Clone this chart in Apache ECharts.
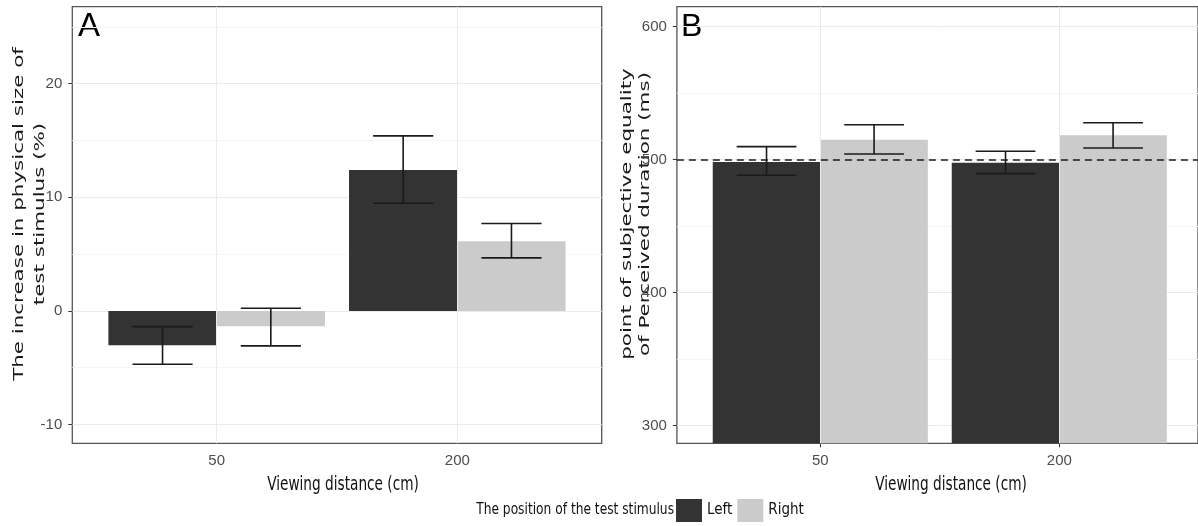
<!DOCTYPE html>
<html>
<head>
<meta charset="utf-8">
<script src="https://cdn.jsdelivr.net/npm/echarts@6/dist/echarts.min.js"></script>
<style>
  html, body { margin: 0; padding: 0; background: #ffffff; }
  #chart { width: 1198px; height: 526px; }
</style>
</head>
<body>
<div id="chart"></div>
<script>
// ---------------- data ----------------
const categories = ['50', '200'];
const seriesNames = ['Left', 'Right'];

// Panel A: increase in physical size of test stimulus (%)
const sizeLeftMean  = [-3.03, 12.41];
const sizeLeftLow   = [-4.69, 9.48];
const sizeLeftHigh  = [-1.38, 15.40];
const sizeRightMean = [-1.35, 6.14];
const sizeRightLow  = [-3.08, 4.67];
const sizeRightHigh = [0.23, 7.69];

// Panel B: point of subjective equality of perceived duration (ms)
const durLeftMean  = [498.3, 497.7];
const durLeftLow   = [488.3, 489.5];
const durLeftHigh  = [509.8, 506.3];
const durRightMean = [515.0, 518.3];
const durRightLow  = [504.3, 508.8];
const durRightHigh = [526.3, 527.8];

const ticksA = [-10, 0, 10, 20];
const ticksB = [300, 400, 500, 600];
const refLineB = 500;

// ---------------- layout ----------------
const boxA = { left: 72.3, top: 6.7, width: 529.4, height: 436.6, vMin: -11.65, vMax: 26.77 };
const boxB = { left: 676.9, top: 6.7, width: 525.8, height: 436.6, vMin: 286.8, vMax: 615.0 };
const CW = 1198;

const COL_DARK = '#333333';
const COL_LIGHT = '#cbcbcb';
const COL_ERR = '#1a1a1a';
const GRID_MAJOR = '#ebebeb';
const GRID_MINOR = '#f5f5f5';
const TICK_COL = '#4d4d4d';
const NARROW = "'Liberation Sans Narrow', 'DejaVu Sans Condensed', 'Roboto Condensed', sans-serif";
const SANS = "'Liberation Sans', Arial, sans-serif";

function borderGrid(box) {
  return { left: box.left, top: box.top, right: CW - box.left - box.width, height: box.height,
           show: true, borderColor: '#555555', borderWidth: 1.3, backgroundColor: 'transparent' };
}
function dataGrid(box) {
  const band = box.width / 2.2;
  return { left: box.left + 0.1 * band, width: 2 * band, top: box.top, height: box.height };
}
function subGrid(box, vMin, vMax) {
  const k = box.height / (box.vMax - box.vMin);
  return { left: box.left, right: CW - box.left - box.width,
           top: box.top + (box.vMax - vMax) * k, height: (vMax - vMin) * k };
}

const stepA = ticksA[1] - ticksA[0];
const stepB = ticksB[1] - ticksB[0];
const splitMaxA = ticksA[ticksA.length - 1] + stepA / 2;  // minor line above the last major tick
const splitMaxB = ticksB[ticksB.length - 1];

const grids = [
  borderGrid(boxA),                                   // 0
  dataGrid(boxA),                                     // 1
  subGrid(boxA, ticksA[0], splitMaxA),                // 2
  subGrid(boxA, ticksA[0], ticksA[ticksA.length - 1]),// 3
  borderGrid(boxB),                                   // 4
  dataGrid(boxB),                                     // 5
  subGrid(boxB, ticksB[0], splitMaxB)                 // 6
];

function hiddenValue(gi) { return { type: 'value', gridIndex: gi, show: false }; }

function catAxis(gi) {
  return {
    type: 'category', gridIndex: gi, data: categories, boundaryGap: true,
    axisLine: { show: false },
    axisTick: { show: true, alignWithLabel: true, length: 4, lineStyle: { color: '#333333', width: 1 } },
    axisLabel: { color: TICK_COL, fontSize: 15, fontFamily: SANS, margin: 10 },
    splitLine: { show: false }
  };
}

function splitAxis(gi, min, max, step) {
  return {
    type: 'value', gridIndex: gi, min: min, max: max, interval: step / 2,
    axisLine: { show: false }, axisTick: { show: false }, axisLabel: { show: false },
    splitLine: { show: true, lineStyle: { color: [GRID_MAJOR, GRID_MINOR], width: 1 } }
  };
}
function labelAxis(gi, ticks) {
  return {
    type: 'value', gridIndex: gi, position: 'left',
    min: ticks[0], max: ticks[ticks.length - 1], interval: ticks[1] - ticks[0],
    axisLine: { show: false },
    axisTick: { show: true, length: 4, lineStyle: { color: '#333333', width: 1 } },
    axisLabel: { color: TICK_COL, fontSize: 15, fontFamily: SANS, margin: 10 },
    splitLine: { show: false }
  };
}

const xAxes = [
  hiddenValue(0), catAxis(1), hiddenValue(2), hiddenValue(3),
  hiddenValue(4), catAxis(5), hiddenValue(6)
];
const yAxes = [
  hiddenValue(0),
  { type: 'value', gridIndex: 1, min: boxA.vMin, max: boxA.vMax, show: false },
  splitAxis(2, ticksA[0], splitMaxA, stepA),
  labelAxis(3, ticksA),
  hiddenValue(4),
  { type: 'value', gridIndex: 5, min: boxB.vMin, max: boxB.vMax, show: false },
  splitAxis(6, ticksB[0], splitMaxB, stepB),
  labelAxis(6, ticksB)
];

function errorRender(sign) {
  return function (params, api) {
    const lo = api.value(1), hi = api.value(2), idx = api.value(0);
    const pLo = api.coord([idx, lo]);
    const pHi = api.coord([idx, hi]);
    const band = api.size([1, 0])[0];
    const cx = pLo[0] + sign * band * 0.225;
    const hw = band * 0.125;
    const st = { stroke: COL_ERR, lineWidth: 1.6 };
    return { type: 'group', children: [
      { type: 'line', shape: { x1: cx, y1: pHi[1], x2: cx, y2: pLo[1] }, style: st },
      { type: 'line', shape: { x1: cx - hw, y1: pHi[1], x2: cx + hw, y2: pHi[1] }, style: st },
      { type: 'line', shape: { x1: cx - hw, y1: pLo[1], x2: cx + hw, y2: pLo[1] }, style: st }
    ]};
  };
}
function errData(low, high) { return categories.map((c, i) => [i, low[i], high[i]]); }

function barSeries(name, data, color, xi, yi) {
  return { name: name, type: 'bar', xAxisIndex: xi, yAxisIndex: yi, data: data,
           barGap: '0%', barCategoryGap: '10%', itemStyle: { color: color }, z: 2, clip: true,
           emphasis: { disabled: true } };
}
function errSeries(low, high, sign, xi, yi) {
  return { type: 'custom', xAxisIndex: xi, yAxisIndex: yi, data: errData(low, high),
           renderItem: errorRender(sign), encode: { x: 0, y: [1, 2] }, z: 3, silent: true };
}
function vGridSeries(xi, yi) {
  return { type: 'line', xAxisIndex: xi, yAxisIndex: yi, data: [], z: 1, silent: true,
           markLine: { silent: true, symbol: 'none', label: { show: false }, animation: false,
                       lineStyle: { color: GRID_MAJOR, width: 1, type: 'solid' },
                       data: categories.map(c => ({ xAxis: c })) } };
}

const series = [
  vGridSeries(1, 1),
  barSeries(seriesNames[0], sizeLeftMean, COL_DARK, 1, 1),
  barSeries(seriesNames[1], sizeRightMean, COL_LIGHT, 1, 1),
  errSeries(sizeLeftLow, sizeLeftHigh, -1, 1, 1),
  errSeries(sizeRightLow, sizeRightHigh, 1, 1, 1),
  vGridSeries(5, 5),
  barSeries(seriesNames[0], durLeftMean, COL_DARK, 5, 5),
  barSeries(seriesNames[1], durRightMean, COL_LIGHT, 5, 5),
  errSeries(durLeftLow, durLeftHigh, -1, 5, 5),
  errSeries(durRightLow, durRightHigh, 1, 5, 5),
  { type: 'line', xAxisIndex: 6, yAxisIndex: 6, data: [], z: 4, silent: true,
    markLine: { silent: true, symbol: 'none', label: { show: false }, animation: false,
                lineStyle: { color: '#1a1a1a', width: 1.5, type: [7, 5] },
                data: [{ yAxis: refLineB }] } }
];

const xTitleStyle = { text: 'Viewing distance (cm)', font: '20px ' + NARROW, fill: '#111111',
                      align: 'center', verticalAlign: 'middle' };

const chart = echarts.init(document.getElementById('chart'), null, { renderer: 'canvas' });
chart.setOption({
  backgroundColor: '#ffffff',
  animation: false,
  grid: grids,
  xAxis: xAxes,
  yAxis: yAxes,
  legend: {
    data: seriesNames, left: 676, top: 499, orient: 'horizontal', padding: 0,
    icon: 'rect', itemWidth: 26, itemHeight: 23, itemGap: 5,
    textStyle: { fontFamily: NARROW, fontSize: 15, color: '#111111' },
    selectedMode: false
  },
  graphic: [
    { type: 'text', left: 78, top: 10, style: { text: 'A', font: '33px ' + SANS, fill: '#000000' } },
    { type: 'text', left: 681, top: 11, style: { text: 'B', font: '32px ' + SANS, fill: '#000000' } },
    { type: 'text', x: 29.5, y: 214, rotation: Math.PI / 2, scaleX: 1.53, scaleY: 1,
      style: { text: 'The increase in physical size of\ntest stimulus (%)', font: "14px 'DejaVu Sans', sans-serif",
               fill: '#1a1a1a', align: 'center', verticalAlign: 'middle', lineHeight: 21 } },
    { type: 'text', x: 636, y: 214, rotation: Math.PI / 2, scaleX: 1.53, scaleY: 1,
      style: { text: 'point of subjective equality\nof Perceived duration (ms)', font: "14px 'DejaVu Sans', sans-serif",
               fill: '#1a1a1a', align: 'center', verticalAlign: 'middle', lineHeight: 18 } },
    { type: 'text', x: 343, y: 485, scaleX: 0.76, scaleY: 1, style: xTitleStyle },
    { type: 'text', x: 951, y: 485, scaleX: 0.76, scaleY: 1, style: xTitleStyle },
    { type: 'text', x: 674, y: 510, scaleX: 0.85, scaleY: 1,
      style: { text: 'The position of the test stimulus', font: '16px ' + NARROW,
               fill: '#111111', align: 'right', verticalAlign: 'middle' } }
  ],
  series: series
});
</script>
</body>
</html>
